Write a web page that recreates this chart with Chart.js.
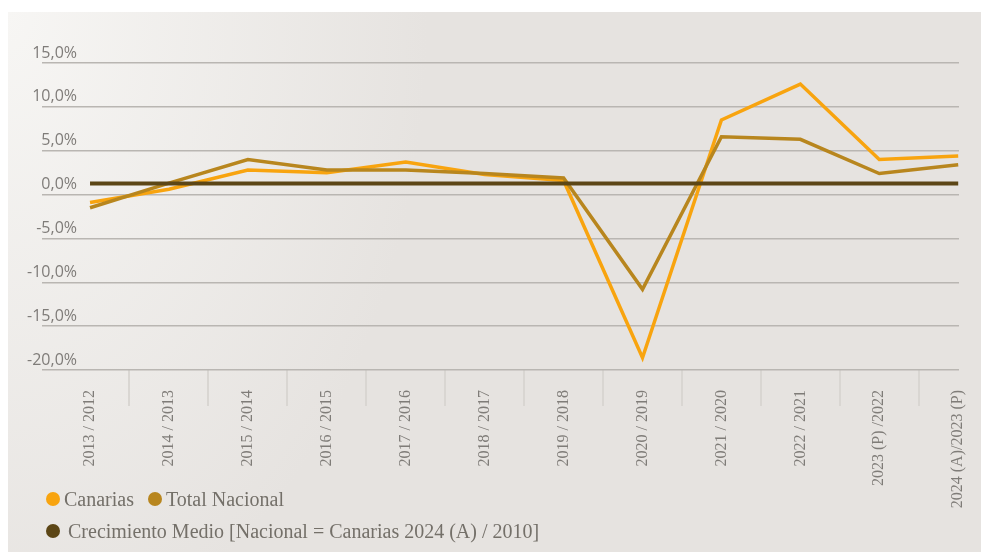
<!DOCTYPE html>
<html lang="es">
<head>
<meta charset="utf-8">
<title>Canarias / Total Nacional</title>
<script src="https://cdn.jsdelivr.net/npm/chart.js@4.4.1/dist/chart.umd.min.js"></script>
<style>
  html, body { margin: 0; padding: 0; background: #fff; }
  #wrap { position: relative; width: 981px; height: 552px; overflow: hidden; }
  #panel {
    position: absolute; left: 8px; top: 12px; right: 0; bottom: 0;
    background: radial-gradient(ellipse 420px 640px at 0 0, #f7f6f4 0%, #e6e3e0 100%);
  }
  canvas { position: absolute; left: 0; top: 0; }
  .legend-row {
    position: absolute; left: 46px; height: 24px;
    display: flex; align-items: center;
    font-family: "Liberation Serif", serif; font-size: 20px; color: #747069;
    white-space: nowrap;
  }
  .legend-item { display: flex; align-items: center; margin-right: 14px; }
  .dot { width: 14px; height: 14px; border-radius: 50%; margin-right: 4px; }
</style>
</head>
<body>
<div id="wrap">
  <div id="panel"></div>
  <canvas id="chart" width="981" height="552"></canvas>
  <div class="legend-row" id="row1" style="top:487px"></div>
  <div class="legend-row" id="row2" style="top:519px"></div>
</div>
<script>
// data
const categories = ['2013 / 2012', '2014 / 2013', '2015 / 2014', '2016 / 2015', '2017 / 2016', '2018 / 2017',
  '2019 / 2018', '2020 / 2019', '2021 / 2020', '2022 / 2021', '2023 (P) /2022', '2024 (A)/2023 (P)'];
const canarias = [-0.9, 0.6, 2.8, 2.5, 3.7, 2.3, 1.6, -18.6, 8.5, 12.6, 4.0, 4.4];
const totalNacional = [-1.5, 1.3, 4.0, 2.8, 2.8, 2.4, 1.9, -10.8, 6.6, 6.3, 2.4, 3.4];
const crecimientoMedio = 1.25;
const yTicks = [-20, -15, -10, -5, 0, 5, 10, 15];

const seriesNames = ['Canarias', 'Total Nacional', 'Crecimiento Medio [Nacional = Canarias 2024 (A) / 2010]'];
const seriesColors = ['#f8a40f', '#b8861e', '#5c4616'];

// html legend (two rows as in the original)
seriesNames.forEach((name, i) => {
  const row = document.getElementById(i < 2 ? 'row1' : 'row2');
  const gap = i < 2 ? 4 : 8;
  row.innerHTML += `<span class="legend-item"><span class="dot" style="background:${seriesColors[i]};margin-right:${gap}px"></span>${name}</span>`;
});

const toXY = arr => arr.map((v, i) => ({ x: i, y: v }));

new Chart(document.getElementById('chart'), {
  type: 'line',
  data: {
    datasets: [
      {
        label: seriesNames[2],
        data: [{ x: 0, y: crecimientoMedio }, { x: categories.length - 1, y: crecimientoMedio }],
        borderColor: seriesColors[2], borderWidth: 4, pointRadius: 0, order: 0
      },
      {
        label: seriesNames[1],
        data: toXY(totalNacional),
        borderColor: seriesColors[1], borderWidth: 3.5, pointRadius: 0, order: 1
      },
      {
        label: seriesNames[0],
        data: toXY(canarias),
        borderColor: seriesColors[0], borderWidth: 3.5, pointRadius: 0, order: 2
      }
    ]
  },
  options: {
    responsive: false,
    animation: false,
    devicePixelRatio: 1,
    layout: { padding: { left: 0, right: 22, top: 63, bottom: 0 } },
    plugins: { legend: { display: false }, tooltip: { enabled: false } },
    scales: {
      x: {
        type: 'linear',
        min: -0.127,
        max: 11.01,
        afterBuildTicks: s => { s.ticks = categories.map((c, i) => ({ value: i })); },
        afterFit: s => { s.height = 182; },
        border: { display: false },
        grid: {
          offset: true,
          drawOnChartArea: false,
          drawTicks: true,
          tickLength: 36,
          lineWidth: 2,
          color: '#d9d6d2',
          tickColor: '#d9d6d2'
        },
        ticks: {
          autoSkip: false,
          minRotation: 90,
          maxRotation: 90,
          padding: -16,
          color: '#7f7c78',
          font: { family: 'Liberation Serif', size: 16 },
          callback: v => categories[v]
        }
      },
      y: {
        min: -20,
        max: 15,
        afterBuildTicks: s => { s.ticks = yTicks.map(v => ({ value: v })); },
        afterFit: s => { s.width = 80; },
        border: { display: false },
        // tick marks continue the grid lines left to x=42
        grid: { color: '#b9b6b2', lineWidth: 1.5, drawTicks: true, tickLength: 38, tickColor: '#b9b6b2' },
        ticks: {
          padding: -35,
          labelOffset: -10,
          color: '#7f7c79',
          font: { family: 'Open Sans', size: 16 },
          callback: v => v.toFixed(1).replace('.', ',') + '%'
        }
      }
    }
  }
});
</script>
</body>
</html>
